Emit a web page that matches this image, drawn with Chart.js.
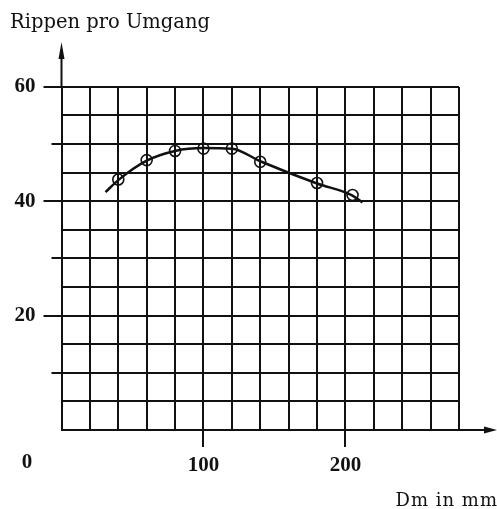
<!DOCTYPE html>
<html>
<head>
<meta charset="utf-8">
<script src="https://cdn.jsdelivr.net/npm/chart.js@4"></script>
<style>
  html, body { margin: 0; padding: 0; background: #fff; }
  #wrap { width: 497px; height: 509px; }
</style>
</head>
<body>
<div id="wrap"><canvas id="chart" width="497" height="509"></canvas></div>
<script>
// measured points (circles)
const dmValues = [40, 60, 80, 100, 120, 140, 180, 205];
const ribValues = [43.8, 47.2, 48.8, 49.2, 49.2, 46.9, 43.2, 41.1];
// hand-drawn fitted curve
const curveDm = [31, 40, 60, 80, 100, 120, 140, 180, 205, 212];
const curveRib = [41.6, 43.7, 47.1, 48.8, 49.3, 49.2, 47.0, 43.1, 41.0, 39.8];
// labelled ticks
const xLabels = [100, 200];
const yLabels = [20, 40, 60];

const INK = '#111';
const NUM_FONT = { family: '"Liberation Serif", serif', size: 21, weight: 'bold' };

const toXY = (xs, ys) => xs.map((v, i) => ({ x: v, y: ys[i] }));

// axis arrows, origin "0" and x-axis caption
const axisExtras = {
  id: 'axisExtras',
  afterDraw(chart) {
    const { ctx, scales: { x, y } } = chart;
    const x0 = x.getPixelForValue(0), y0 = y.getPixelForValue(0);
    const xEnd = x.getPixelForValue(280), yTop = y.getPixelForValue(60);
    ctx.save();
    ctx.strokeStyle = INK; ctx.fillStyle = INK; ctx.lineWidth = 2;
    ctx.beginPath();
    ctx.moveTo(x0, yTop); ctx.lineTo(x0, 54);
    ctx.moveTo(xEnd, y0); ctx.lineTo(chart.width - 8, y0);
    ctx.stroke();
    ctx.beginPath();
    ctx.moveTo(x0, 42); ctx.lineTo(x0 - 3, 59); ctx.lineTo(x0 + 3, 59); ctx.closePath();
    ctx.moveTo(chart.width, y0); ctx.lineTo(chart.width - 13, y0 - 3.5); ctx.lineTo(chart.width - 13, y0 + 3.5); ctx.closePath();
    ctx.fill();

    ctx.font = `bold ${NUM_FONT.size}px ${NUM_FONT.family}`;
    ctx.textAlign = 'center'; ctx.textBaseline = 'alphabetic';
    ctx.fillText('0', 27, 468);

    ctx.font = '18px "DejaVu Serif", serif';
    ctx.letterSpacing = '1px';
    ctx.textAlign = 'right';
    ctx.fillText('Dm in mm', chart.width + 1, 506);
    ctx.restore();
  }
};

new Chart(document.getElementById('chart'), {
  type: 'scatter',
  data: {
    datasets: [
      {
        label: 'Kurve',
        data: toXY(curveDm, curveRib),
        showLine: true,
        borderColor: INK,
        borderWidth: 2.5,
        pointRadius: 0,
        cubicInterpolationMode: 'monotone',
        order: 2
      },
      {
        label: 'Messwerte',
        data: toXY(dmValues, ribValues),
        pointStyle: 'circle',
        pointRadius: 5.5,
        pointBorderWidth: 1.6,
        pointBorderColor: INK,
        pointBackgroundColor: 'rgba(255,255,255,0)',
        order: 1
      }
    ]
  },
  options: {
    responsive: false,
    animation: false,
    events: [],
    layout: { padding: { left: 10, right: 38, top: 0, bottom: 0 } },
    plugins: {
      legend: { display: false },
      tooltip: { enabled: false },
      title: {
        display: true,
        text: 'Rippen pro Umgang',
        align: 'start',
        color: INK,
        font: { family: '"DejaVu Serif", serif', size: 19.5, weight: 'normal' },
        padding: { top: 11, bottom: 52.5 }
      }
    },
    scales: {
      x: {
        type: 'linear',
        min: 0, max: 280,
        afterFit: s => { s.height = 79; },
        border: { display: true, color: INK, width: 2 },
        grid: {
          color: INK,
          lineWidth: 2,
          tickLength: 17,
          tickWidth: 2,
          tickColor: c => xLabels.includes(c.tick && c.tick.value) ? INK : 'rgba(0,0,0,0)'
        },
        ticks: {
          stepSize: 20,
          autoSkip: false,
          maxRotation: 0,
          padding: 6,
          color: INK,
          font: NUM_FONT,
          callback: v => xLabels.includes(v) ? String(v) : ''
        }
      },
      y: {
        type: 'linear',
        min: 0, max: 60,
        afterFit: s => { s.width = 51.5; },
        border: { display: true, color: INK, width: 2 },
        grid: {
          color: INK,
          lineWidth: 2,
          tickLength: 18,
          tickWidth: 2,
          // stubs only every 10 units, skipping the origin
          tickColor: c => (c.tick && c.tick.value > 0 && c.tick.value % 10 === 0) ? INK : 'rgba(0,0,0,0)',
          // the 50/30/10 stubs are shorter: skip the outer part of the tick
          tickBorderDash: c => (c.tick && c.tick.value % 20 === 0) ? [] : [0, 8, 12, 100]
        },
        ticks: {
          stepSize: 5,
          autoSkip: false,
          padding: 8,
          color: INK,
          font: NUM_FONT,
          callback: v => yLabels.includes(v) ? String(v) : ''
        }
      }
    }
  },
  plugins: [axisExtras]
});
</script>
</body>
</html>
